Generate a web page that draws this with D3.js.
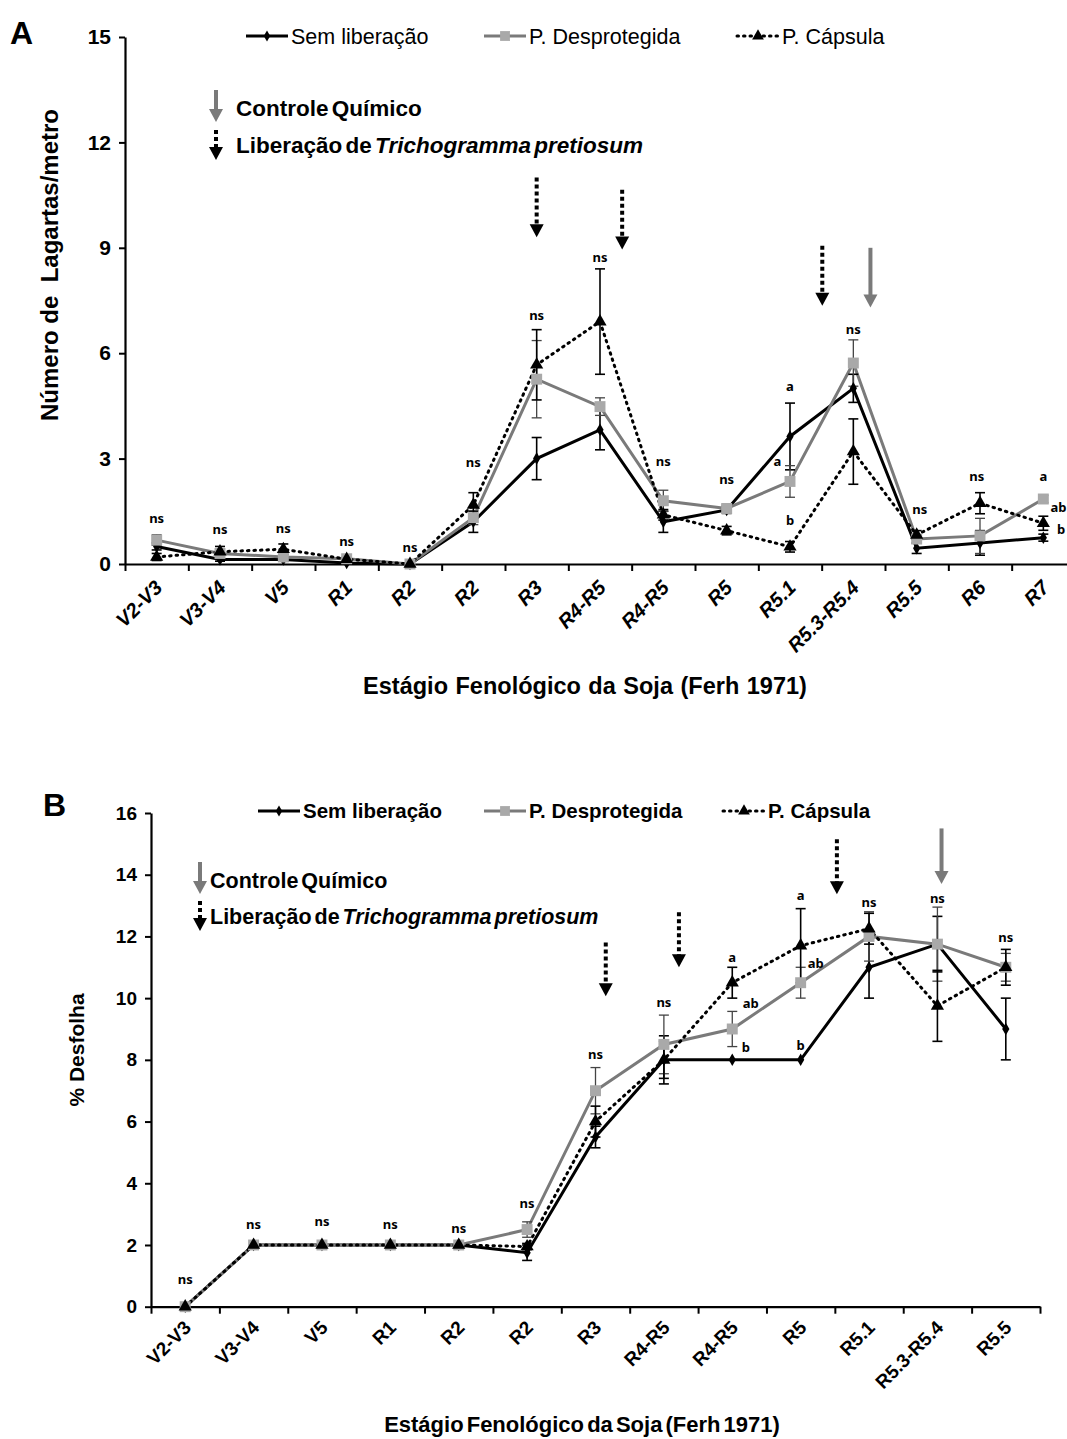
<!DOCTYPE html>
<html>
<head>
<meta charset="utf-8">
<script src="https://cdn.jsdelivr.net/npm/d3@7"></script>
<style>
  body { margin: 0; background: #fff; }
  svg { display: block; font-family: "Liberation Sans", Arial, sans-serif; }
</style>
</head>
<body>
<script>
// ---- Painel A: lagartas por metro ----
const catsA = ['V2-V3', 'V3-V4', 'V5', 'R1', 'R2', 'R2', 'R3', 'R4-R5', 'R4-R5', 'R5', 'R5.1', 'R5.3-R5.4', 'R5.5', 'R6', 'R7'];
const semA = [0.5, 0.13, 0.13, 0.03, 0, 1.2, 3.0, 3.82, 1.2, 1.54, 3.63, 5.0, 0.45, 0.6, 0.75];
const desA = [0.68, 0.3, 0.2, 0.15, 0, 1.32, 5.26, 4.48, 1.8, 1.58, 2.35, 5.72, 0.71, 0.8, 1.85];
const capA = [0.2, 0.35, 0.42, 0.14, 0, 1.68, 5.67, 6.9, 1.4, 0.95, 0.49, 3.2, 0.83, 1.73, 1.16];
const semErrA = [0.1, 0.05, 0.05, 0.03, 0, 0.3, 0.6, 0.57, 0.3, 0.1, 0.95, 0.4, 0.15, 0.35, 0.1];
const desErrA = [0.15, 0.08, 0.08, 0.05, 0, 0.2, 1.1, 0.25, 0.3, 0.1, 0.45, 0.66, 0.12, 0.5, 0.1];
const capErrA = [0.1, 0.15, 0.15, 0.05, 0, 0.35, 1.0, 1.5, 0.15, 0.12, 0.15, 0.93, 0.12, 0.3, 0.2];
const yTicksA = [0, 3, 6, 9, 12, 15];
// [categoria, valor, texto, deslocamento]
const sigA = [
  [0, 1.31, 'ns', 0], [1, 0.97, 'ns', 0], [2, 1.0, 'ns', 0], [3, 0.63, 'ns', 0],
  [4, 0.46, 'ns', 0], [5, 2.9, 'ns', 0], [6, 7.07, 'ns', 0], [7, 8.72, 'ns', 0],
  [8, 2.93, 'ns', 0], [9, 2.42, 'ns', 0], [10, 5.04, 'a', 0], [10, 2.93, 'a', -0.2],
  [10, 1.25, 'b', 0], [11, 6.67, 'ns', 0], [12, 1.54, 'ns', 0.05], [13, 2.5, 'ns', -0.05],
  [14, 2.5, 'a', 0], [14, 1.6, 'ab', 0.24], [14, 0.97, 'b', 0.28]
];
// [posição, topo, base, tipo]
const arrowsA = [
  [6.0, 11.0, 9.3, 'lib'], [7.35, 10.65, 8.95, 'lib'],
  [10.51, 9.06, 7.35, 'lib'], [11.27, 9.0, 7.3, 'quim']
];

// ---- Painel B: % desfolha ----
const catsB = ['V2-V3', 'V3-V4', 'V5', 'R1', 'R2', 'R2', 'R3', 'R4-R5', 'R4-R5', 'R5', 'R5.1', 'R5.3-R5.4', 'R5.5'];
const semB = [0, 2, 2, 2, 2, 1.75, 5.5, 8, 8, 8, 11, 11.75, 9];
const desB = [0, 2, 2, 2, 2, 2.5, 7.0, 8.5, 9.0, 10.5, 12.0, 11.75, 11.0];
const capB = [0, 2, 2, 2, 2, 1.95, 6.0, 8.0, 10.5, 11.7, 12.25, 9.75, 11.0];
const semErrB = [0, 0, 0, 0, 0, 0.25, 0.35, 0.78, 0, 0, 1.0, 0.9, 1.0];
const desErrB = [0, 0, 0, 0, 0, 0.25, 0.75, 0.95, 0.57, 0.5, 0.8, 1.2, 0.45];
const capErrB = [0, 0, 0, 0, 0, 0.1, 0.5, 0.6, 0.5, 1.2, 0.5, 1.15, 0.58];
const yTicksB = [0, 2, 4, 6, 8, 10, 12, 14, 16];
const sigB = [
  [0, 0.87, 'ns', 0], [1, 2.65, 'ns', 0], [2, 2.75, 'ns', 0], [3, 2.65, 'ns', 0],
  [4, 2.55, 'ns', 0], [5, 3.33, 'ns', 0], [6, 8.17, 'ns', 0], [7, 9.86, 'ns', 0],
  [8, 11.32, 'a', 0], [8, 9.83, 'ab', 0.27], [8, 8.4, 'b', 0.2],
  [9, 13.33, 'a', 0], [9, 11.13, 'ab', 0.22], [9, 8.46, 'b', 0],
  [10, 13.1, 'ns', 0], [11, 13.24, 'ns', 0], [12, 11.97, 'ns', 0]
];
const arrowsB = [
  [6.15, 11.8, 10.06, 'lib'], [7.22, 12.78, 11.0, 'lib'],
  [9.53, 15.15, 13.37, 'lib'], [11.06, 15.5, 13.7, 'quim']
];

const seriesNames = ['Sem liberação', 'P. Desprotegida', 'P. Cápsula'];

const svg = d3.select('body').append('svg')
  .attr('width', 1067)
  .attr('height', 1439);

const GRAY = '#7a7a7a';
const LIGHT = '#a9a9a9';

const styles = [
  { line: '#000', dash: null, sym: d3.symbolDiamond, size: 45, fill: '#000', err: '#000' },
  { line: GRAY, dash: null, sym: d3.symbolSquare, size: 120, fill: LIGHT, err: '#444' },
  { line: '#000', dash: '1.5,5', sym: d3.symbolTriangle, size: 75, fill: '#000', err: '#000' }
];

function drawArrow(g, x, yTop, yBot, type) {
  const color = type === 'quim' ? GRAY : '#000';
  const head = 13;
  g.append('line')
    .attr('x1', x).attr('x2', x)
    .attr('y1', yTop).attr('y2', yBot - head + 2)
    .attr('stroke', color)
    .attr('stroke-width', 4)
    .attr('stroke-dasharray', type === 'quim' ? null : '4,3');
  g.append('path')
    .attr('d', `M${x - 7},${yBot - head}L${x + 7},${yBot - head}L${x},${yBot}Z`)
    .attr('fill', color);
}

function drawPanel(cfg) {
  const g = svg.append('g');
  const n = cfg.cats.length;
  const x = d3.scaleLinear().domain([0, n]).range([cfg.x0, cfg.x1]);
  const y = d3.scaleLinear().domain([0, cfg.yMax]).range([cfg.yBottom, cfg.yTop]);
  const cx = (i) => x(i + 0.5);

  // eixos
  const xAxis = g.append('g')
    .attr('transform', `translate(0,${cfg.yBottom})`)
    .call(d3.axisBottom(x).tickValues(d3.range(0, n + 1)).tickFormat('').tickSize(7).tickSizeOuter(0));
  xAxis.select('.domain').attr('stroke-width', 2.2);
  xAxis.selectAll('.tick line').attr('stroke-width', 2);

  const yAxis = g.append('g')
    .attr('transform', `translate(${cfg.x0},0)`)
    .call(d3.axisLeft(y).tickValues(cfg.yTicks).tickSize(6).tickSizeOuter(0));
  yAxis.select('.domain').attr('stroke-width', 2.2);
  yAxis.selectAll('.tick line').attr('stroke-width', 2);
  yAxis.selectAll('.tick text')
    .attr('x', -14)
    .attr('font-size', cfg.yTickSize)
    .attr('font-weight', 'bold')
    .attr('font-family', '"Liberation Sans", Arial, sans-serif')
    .attr('fill', '#000');

  // rótulos das categorias
  g.selectAll('text.cat')
    .data(cfg.cats)
    .join('text')
    .attr('class', 'cat')
    .attr('transform', (d, i) => `translate(${cx(i) + 7},${cfg.yBottom + cfg.catDy}) rotate(-45)`)
    .attr('text-anchor', 'end')
    .attr('font-size', cfg.catSize)
    .attr('font-weight', 'bold')
    .attr('font-style', cfg.catItalic ? 'italic' : 'normal')
    .text((d) => d);

  const series = [cfg.sem, cfg.des, cfg.cap];
  const errs = [cfg.semErr, cfg.desErr, cfg.capErr];

  // linhas
  series.forEach((vals, s) => {
    const st = styles[s];
    g.append('path')
      .datum(vals)
      .attr('fill', 'none')
      .attr('stroke', st.line)
      .attr('stroke-width', 3)
      .attr('stroke-linecap', st.dash ? 'round' : 'butt')
      .attr('stroke-dasharray', st.dash)
      .attr('d', d3.line().x((d, i) => cx(i)).y((d) => y(d)));
  });

  // barras de erro
  series.forEach((vals, s) => {
    const st = styles[s];
    const eg = g.append('g').attr('stroke', st.err).attr('stroke-width', s === 1 ? 1.3 : 1.6);
    vals.forEach((v, i) => {
      const e = errs[s][i];
      if (!e) return;
      eg.append('line').attr('x1', cx(i)).attr('x2', cx(i)).attr('y1', y(v - e)).attr('y2', y(v + e));
      [v - e, v + e].forEach((t) => {
        eg.append('line').attr('x1', cx(i) - 5).attr('x2', cx(i) + 5).attr('y1', y(t)).attr('y2', y(t));
      });
    });
  });

  // marcadores
  series.forEach((vals, s) => {
    const st = styles[s];
    g.selectAll(null)
      .data(vals)
      .join('path')
      .attr('transform', (d, i) => `translate(${cx(i)},${y(d)})`)
      .attr('d', d3.symbol().type(st.sym).size(st.size))
      .attr('fill', st.fill);
  });

  // letras de significância
  g.selectAll('text.sig')
    .data(cfg.sig)
    .join('text')
    .attr('class', 'sig')
    .attr('x', (d) => x(d[0] + 0.5 + d[3]))
    .attr('y', (d) => y(d[1]))
    .attr('dy', '0.35em')
    .attr('text-anchor', 'middle')
    .attr('font-family', '"Noto Sans", sans-serif')
    .attr('font-weight', 'bold')
    .attr('font-size', 13)
    .text((d) => d[2]);

  // setas de manejo
  cfg.arrows.forEach((a) => drawArrow(g, x(a[0] + 0.5), y(a[1]), y(a[2]), a[3]));

  // títulos
  g.append('text')
    .attr('transform', `translate(${cfg.yLabelX},${cfg.yLabelY}) rotate(-90)`)
    .attr('text-anchor', 'middle')
    .attr('font-weight', 'bold')
    .attr('font-size', cfg.yLabelSize)
    .attr('xml:space', 'preserve')
    .style('white-space', 'pre')
    .text(cfg.yLabel);

  g.append('text')
    .attr('x', cfg.xLabelX)
    .attr('y', cfg.xLabelY)
    .attr('text-anchor', 'middle')
    .attr('font-weight', 'bold')
    .attr('font-size', cfg.xLabelSize)
    .attr('word-spacing', cfg.xLabelWs)
    .text('Estágio Fenológico da Soja (Ferh 1971)');

  g.append('text')
    .attr('x', cfg.panelX)
    .attr('y', cfg.panelY)
    .attr('font-weight', 'bold')
    .attr('font-size', 32)
    .text(cfg.panel);

  // legenda das séries
  cfg.legendX.forEach((lx, s) => {
    const st = styles[s];
    const ly = cfg.legendY;
    g.append('line')
      .attr('x1', lx).attr('x2', lx + 42)
      .attr('y1', ly).attr('y2', ly)
      .attr('stroke', st.line)
      .attr('stroke-width', 3)
      .attr('stroke-linecap', st.dash ? 'round' : 'butt')
      .attr('stroke-dasharray', st.dash);
    g.append('path')
      .attr('transform', `translate(${lx + 21},${ly})`)
      .attr('d', d3.symbol().type(st.sym).size(st.size * 0.8))
      .attr('fill', st.fill);
    g.append('text')
      .attr('x', lx + 45)
      .attr('y', ly)
      .attr('dy', '0.35em')
      .attr('font-size', cfg.legendSize)
      .attr('font-weight', cfg.legendBold ? 'bold' : 'normal')
      .text(seriesNames[s]);
  });

  // legenda das setas
  const k = cfg.key;
  drawArrow(g, k.ax, k.y1 - 18, k.y1 + 14, 'quim');
  g.append('text')
    .attr('x', k.tx).attr('y', k.y1).attr('dy', '0.35em')
    .attr('font-weight', 'bold').attr('font-size', k.size)
    .attr('word-spacing', -3)
    .text('Controle Químico');
  drawArrow(g, k.ax, k.y2 - 15, k.y2 + 15, 'lib');
  const t2 = g.append('text')
    .attr('x', k.tx).attr('y', k.y2).attr('dy', '0.35em')
    .attr('font-weight', 'bold').attr('font-size', k.size)
    .attr('word-spacing', -3);
  t2.append('tspan').text('Liberação de ');
  t2.append('tspan').attr('font-style', 'italic').text('Trichogramma pretiosum');
}

drawPanel({
  panel: 'A', panelX: 10, panelY: 44,
  cats: catsA, sem: semA, des: desA, cap: capA,
  semErr: semErrA, desErr: desErrA, capErr: capErrA,
  sig: sigA, arrows: arrowsA, yTicks: yTicksA, yMax: 15,
  x0: 125, x1: 1075, yTop: 37, yBottom: 564,
  yTickSize: 21, catSize: 20, catItalic: true, catDy: 25,
  yLabel: 'Número de  Lagartas/metro', yLabelX: 58, yLabelY: 265, yLabelSize: 24,
  xLabelX: 585, xLabelY: 694, xLabelSize: 23.5, xLabelWs: 1,
  legendX: [246, 484, 737], legendY: 36, legendSize: 21.5, legendBold: false,
  key: { ax: 216, tx: 236, y1: 108, y2: 145, size: 22.5 }
});

drawPanel({
  panel: 'B', panelX: 43, panelY: 816,
  cats: catsB, sem: semB, des: desB, cap: capB,
  semErr: semErrB, desErr: desErrB, capErr: capErrB,
  sig: sigB, arrows: arrowsB, yTicks: yTicksB, yMax: 16,
  x0: 151, x1: 1040, yTop: 813, yBottom: 1306.7,
  yTickSize: 19, catSize: 19, catItalic: false, catDy: 22,
  yLabel: '% Desfolha', yLabelX: 84, yLabelY: 1050, yLabelSize: 21,
  xLabelX: 582, xLabelY: 1432, xLabelSize: 22, xLabelWs: -3,
  legendX: [258, 484, 723], legendY: 811, legendSize: 20.5, legendBold: true,
  key: { ax: 200, tx: 210, y1: 880, y2: 916, size: 21.5 }
});
</script>
</body>
</html>
